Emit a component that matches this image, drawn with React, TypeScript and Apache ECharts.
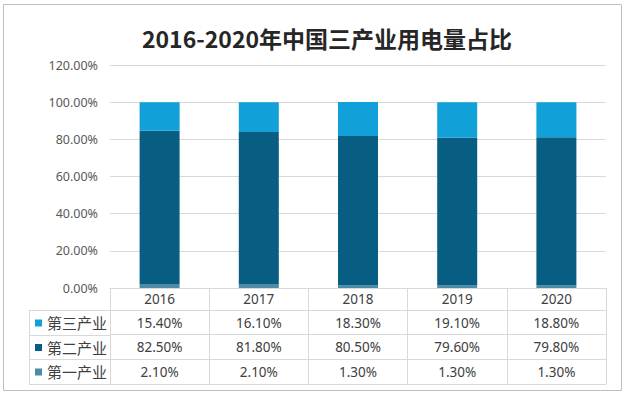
import React, { useEffect, useRef } from "react";
import * as echarts from "echarts";

const years = ["2016", "2017", "2018", "2019", "2020"];
const tertiary = [15.4, 16.1, 18.3, 19.1, 18.8];
const secondary = [82.5, 81.8, 80.5, 79.6, 79.8];
const primary = [2.1, 2.1, 1.3, 1.3, 1.3];
const seriesNames = ["第三产业", "第二产业", "第一产业"];
const tableRows = [tertiary, secondary, primary];
const colors = { tertiary: "#11A0D7", secondary: "#085E82", primary: "#4E8CA6" };

const FONT = "'Noto Sans', 'Noto Sans CJK SC', sans-serif";
const LINE = "#D9D9D9";
const TEXT = "#404040";

export default function App() {
  const ref = useRef<HTMLDivElement>(null);
  useEffect(() => {
    if (!ref.current) return;
    const chart = echarts.init(ref.current, null, { renderer: "svg" });
    const rowOffsets = [22, 46.5, 71];
    const extraAxes: any[] = tableRows.map((vals, r) => ({
      type: "category",
      data: years,
      position: "bottom",
      offset: rowOffsets[r],
      axisLine: { show: true, lineStyle: { color: LINE, width: 1 } },
      axisTick: { show: false },
      splitLine: { show: false },
      axisLabel: {
        interval: 0,
        margin: 12.5,
        verticalAlign: "middle",
        fontSize: 13.5,
        fontFamily: FONT,
        color: TEXT,
        formatter: (_v: string, i: number) => vals[i].toFixed(2) + "%",
      },
    }));
    extraAxes.push({
      type: "category",
      data: years,
      position: "bottom",
      offset: 96,
      axisLine: { show: true, lineStyle: { color: LINE, width: 1 } },
      axisTick: { show: false },
      axisLabel: { show: false },
      splitLine: { show: false },
    });
    const leftLines = [310, 334.5, 359, 384].map((y) => ({
      type: "line",
      shape: { x1: 29, y1: Math.round(y) + 0.5, x2: 110, y2: Math.round(y) + 0.5 },
      style: { stroke: LINE, lineWidth: 1 },
      silent: true,
    }));
    chart.setOption({
      animation: false,
      backgroundColor: "#ffffff",
      title: {
        text: "2016-2020年中国三产业用电量占比",
        left: 327,
        top: 26,
        textAlign: "center",
        padding: 0,
        textStyle: {
          fontSize: 23,
          fontWeight: "bold",
          color: "#262626",
          fontFamily: "'Noto Sans CJK SC', 'Noto Sans', sans-serif",
        },
      },
      legend: {
        orient: "vertical",
        left: 35,
        top: 315.5,
        padding: 0,
        itemWidth: 7,
        itemHeight: 7,
        itemGap: 9.5,
        icon: "rect",
        data: seriesNames,
        selectedMode: false,
        textStyle: { fontSize: 15, color: TEXT, fontFamily: FONT },
      },
      grid: { left: 110, right: 20, top: 65, bottom: 109, containLabel: false },
      xAxis: [
        {
          type: "category",
          data: years,
          position: "bottom",
          axisLine: { show: true, lineStyle: { color: LINE, width: 1 } },
          axisTick: { show: true, length: 96, interval: 0, lineStyle: { color: LINE, width: 1 } },
          axisLabel: {
            interval: 0,
            margin: 11,
            verticalAlign: "middle",
            fontSize: 13.5,
            fontFamily: FONT,
            color: TEXT,
          },
          splitLine: { show: false },
        },
        ...extraAxes,
      ],
      yAxis: {
        type: "value",
        min: 0,
        max: 120,
        interval: 20,
        axisLine: { show: false },
        axisTick: { show: false },
        axisLabel: {
          margin: 12,
          fontSize: 12.5,
          fontFamily: FONT,
          color: "#595959",
          formatter: (v: number) => v.toFixed(2) + "%",
        },
        splitLine: { lineStyle: { color: LINE, width: 1 } },
      },
      series: [
        { name: "第一产业", type: "bar", stack: "total", barWidth: 40, data: primary, itemStyle: { color: colors.primary } },
        { name: "第二产业", type: "bar", stack: "total", barWidth: 40, data: secondary, itemStyle: { color: colors.secondary } },
        { name: "第三产业", type: "bar", stack: "total", barWidth: 40, data: tertiary, itemStyle: { color: colors.tertiary } },
      ],
      graphic: [
        {
          type: "rect",
          shape: { x: 3.5, y: 4.5, width: 618, height: 386 },
          style: { fill: "none", stroke: "#BFBFBF", lineWidth: 1 },
          silent: true,
          z: -1,
        },
        {
          type: "line",
          shape: { x1: 29.5, y1: 310, x2: 29.5, y2: 385 },
          style: { stroke: LINE, lineWidth: 1 },
          silent: true,
        },
        ...leftLines,
      ],
    });
    return () => chart.dispose();
  }, []);
  return (
    <div
      ref={ref}
      style={{ position: "absolute", left: 0, top: 0, width: 626, height: 397 }}
    />
  );
}
